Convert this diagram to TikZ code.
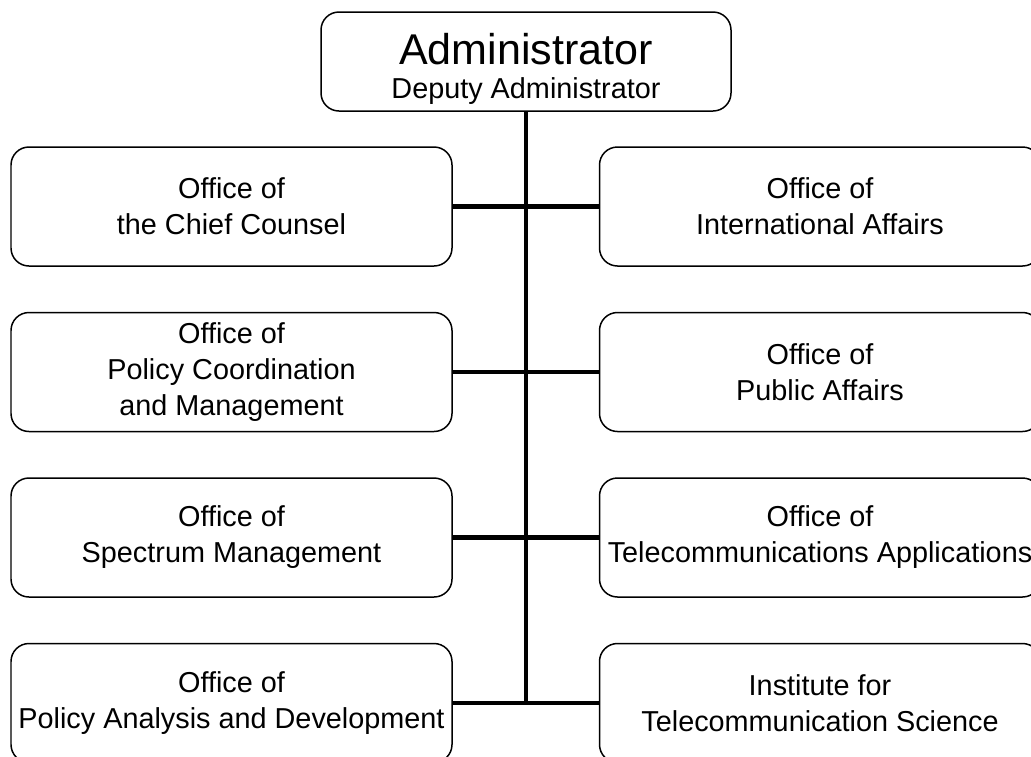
\documentclass[tikz,border=0pt]{standalone}
\usepackage{fontspec}
\setmainfont{Liberation Sans}
\usetikzlibrary{positioning}
\tikzset{office/.style={draw,rounded corners=0.36cm,line width=0.85pt,
        minimum width=8.82cm,minimum height=2.38cm,inner sep=0pt,
        align=center,font=\fontsize{16.4}{20.5}\selectfont}}
\tikzset{link/.style={line width=2.3pt}}

\begin{document}
\begin{tikzpicture}[node distance=3.31cm]
            \clip (0,0) rectangle (20.62,-15.12);
            \node[office,minimum width=8.2cm,minimum height=1.98cm] (admin) at (10.52,-1.23)
                {\rule{0pt}{0.93cm}{\fontsize{24.5}{24.5}\selectfont Administrator}\\[-1pt]Deputy Administrator};
            % left column
            \node[office] (chief) at (4.63,-4.13) {Office of\\the Chief Counsel};
            \node[office] (pcm) [below of=chief] {Office of\\Policy Coordination\\and Management};
            \node[office] (osm) [below of=pcm] {Office of\\Spectrum Management};
            \node[office] (pad) [below of=osm] {Office of\\Policy Analysis and Development};
            % right column
            \node[office] (oia) at (16.4,-4.13) {Office of\\International Affairs};
            \node[office] (opa) [below of=oia] {Office of\\Public Affairs};
            \node[office] (ota) [below of=opa] {Office of\\Telecommunications Applications};
            \node[office] (its) [below of=ota] {Institute for\\Telecommunication Science};
            \draw[line width=2.8pt] (admin.south) -- (admin.south |- pad.east);
            \draw[link]
                (chief.east) -- (oia.west)
                (pcm.east) -- (opa.west)
                (osm.east) -- (ota.west)
                (pad.east) -- (its.west);
        \end{tikzpicture}
\end{document}
